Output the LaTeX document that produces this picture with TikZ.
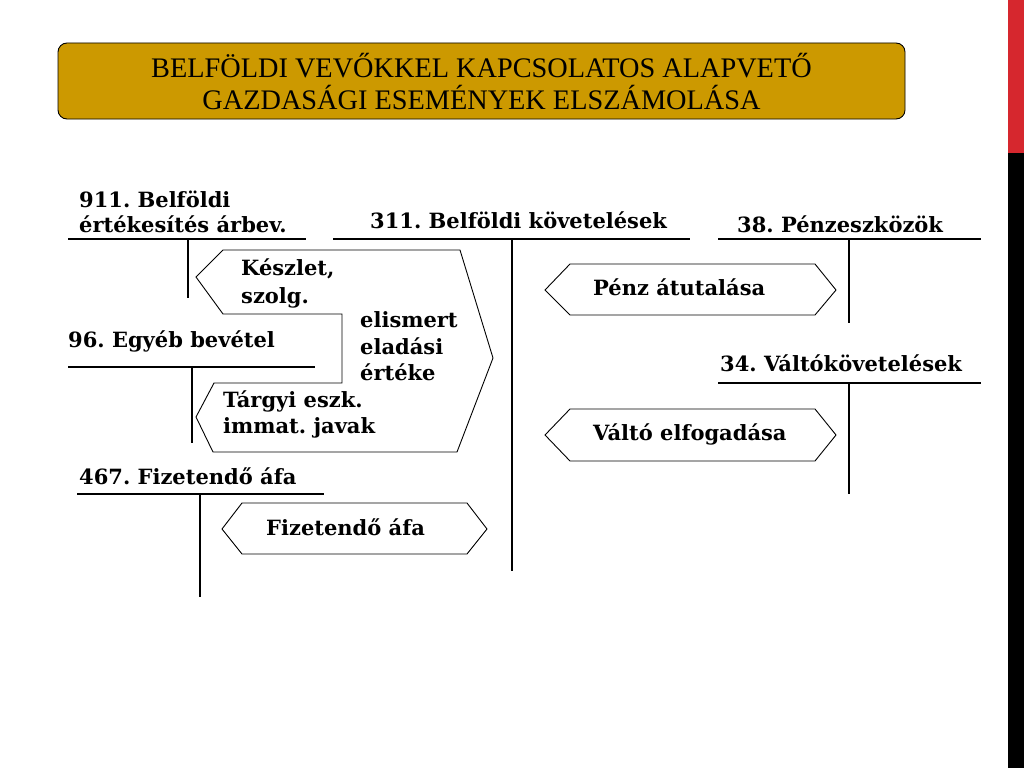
\documentclass[tikz,border=0pt]{standalone}
\usepackage{fontspec}
\setmainfont{DejaVu Serif}
\newfontfamily\titlefont{Liberation Serif}
\definecolor{gold}{RGB}{204,153,0}
\definecolor{barred}{RGB}{214,39,46}
\frenchspacing
\tikzset{
  acc/.style={line width=2.4pt},
  shp/.style={line width=0.9pt},
  lbl/.style={font=\fontsize{21}{25}\selectfont\bfseries, inner sep=0pt, anchor=base west},
}
\begin{document}
\begin{tikzpicture}[x=1pt,y=-1pt]
\useasboundingbox (0,0) rectangle (1024,768);
\fill[white] (0,0) rectangle (1024,768);
% right bar
\fill[barred] (1008,0) rectangle (1024,153);
\fill[black] (1008,153) rectangle (1024,768);
% title
\draw[fill=gold, line width=0.9pt, rounded corners=9pt] (58,43) rectangle (905,119);
\node[font=\titlefont\fontsize{28.3}{32}\selectfont, align=center, inner sep=0pt] (title) at (481.5,81)
  {BELFÖLDI VEVŐKKEL KAPCSOLATOS ALAPVETŐ\\GAZDASÁGI ESEMÉNYEK ELSZÁMOLÁSA};

% T-accounts
\node[lbl] (a911a) at (79,207) {911. Belföldi};
\node[lbl] (a911b) at (79,232) {értékesítés árbev.};
\draw[acc] (68,239) -- (306,239);
\draw[acc] (188,239) -- (188,298);

\node[lbl] (a311) at (370,228) {311. Belföldi követelések};
\draw[acc] (333,239) -- (690,239);
\draw[acc] (512,239) -- (512,571);

\node[lbl] (a38) at (737,232) {38. Pénzeszközök};
\draw[acc] (718,239) -- (981,239);
\draw[acc] (849,239) -- (849,323);

\node[lbl] (a96) at (68,347) {96. Egyéb bevétel};
\draw[acc] (68,367) -- (315,367);
\draw[acc] (192,367) -- (192,443);

\node[lbl] (a34) at (720,371) {34. Váltókövetelések};
\draw[acc] (718,383) -- (981,383);
\draw[acc] (849,383) -- (849,494);

\node[lbl] (a467) at (79,484) {467. Fizetendő áfa};
\draw[acc] (77,494) -- (324,494);
\draw[acc] (200,494) -- (200,597);

% big shape
\draw[shp, line join=miter] (223,250) -- (196,277) -- (223,314) -- (342,314) -- (342,383) -- (214,383)
  -- (196,417) -- (213,452) -- (457,452) -- (493,358) -- (460,250) -- cycle;
\node[lbl] (k1) at (241,275) {Készlet,};
\node[lbl] (k2) at (241,303) {szolg.};
\node[lbl] (e1) at (360,327) {elismert};
\node[lbl] (e2) at (360,354) {eladási};
\node[lbl] (e3) at (360,380) {értéke};
\node[lbl] (t1) at (223,407) {Tárgyi eszk.};
\node[lbl] (t2) at (223,433) {immat. javak};

% hexagons
\draw[shp] (545,290) -- (570,264) -- (815,264) -- (836,290) -- (815,315) -- (570,315) -- cycle;
\node[lbl] (penz) at (593,295) {Pénz átutalása};
\draw[shp] (545,435) -- (570,409) -- (815,409) -- (836,435) -- (815,461) -- (570,461) -- cycle;
\node[lbl] (valto) at (593,440) {Váltó elfogadása};
\draw[shp] (222,529) -- (242,503) -- (467,503) -- (487,529) -- (467,554) -- (242,554) -- cycle;
\node[lbl] (afa) at (266,535) {Fizetendő áfa};
\end{tikzpicture}
\end{document}
